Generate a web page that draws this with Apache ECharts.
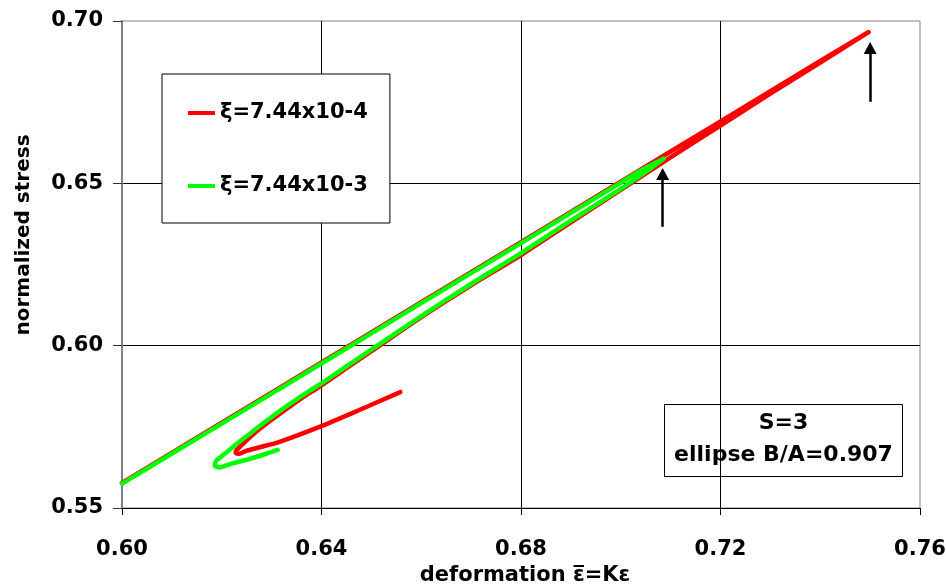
<!DOCTYPE html>
<html>
<head>
<meta charset="utf-8">
<script src="https://cdn.jsdelivr.net/npm/echarts@6/dist/echarts.min.js"></script>
<style>
  html, body { margin: 0; padding: 0; background: #fff; }
  #chart { width: 946px; height: 585px; }
</style>
</head>
<body>
<div id="chart"></div>
<script>
// Stress–deformation loops for two damping values
const seriesNames = ['ξ=7.44x10-4', 'ξ=7.44x10-3'];

// ξ = 7.44x10-4 : tail → turning point → loading branch → tip → unloading branch
const redX = [0.6558, 0.6476, 0.6396, 0.6316, 0.6276, 0.6249, 0.6235, 0.6228, 0.6230, 0.6238,
              0.6251, 0.6276, 0.6316, 0.6356, 0.6400, 0.6500, 0.6600, 0.6700, 0.6800, 0.6900,
              0.7000, 0.7100, 0.7200, 0.7300, 0.7400, 0.7497, 0.7400, 0.7200, 0.7000, 0.6800,
              0.6600, 0.6400, 0.6200, 0.6000];
const redY = [0.5857, 0.5802, 0.5750, 0.5704, 0.5687, 0.5676, 0.5667, 0.5670, 0.5679, 0.5691,
              0.5710, 0.5744, 0.5790, 0.5834, 0.5878, 0.5983, 0.6088, 0.6186, 0.6279, 0.6380,
              0.6480, 0.6580, 0.6678, 0.6776, 0.6872, 0.6966, 0.6877, 0.6691, 0.6505, 0.6319,
              0.6134, 0.5948, 0.5763, 0.5577];

// ξ = 7.44x10-3
const greenX = [0.6312, 0.6283, 0.6249, 0.6216, 0.6196, 0.6186, 0.6189, 0.6203, 0.6223, 0.6249,
                0.6283, 0.6333, 0.6373, 0.6400, 0.6500, 0.6600, 0.6700, 0.6800, 0.6900, 0.7000,
                0.7050, 0.7086, 0.7050, 0.7000, 0.6800, 0.6600, 0.6400, 0.6200, 0.6000];
const greenY = [0.5679, 0.5664, 0.5648, 0.5635, 0.5625, 0.5630, 0.5646, 0.5663, 0.5689, 0.5720,
                0.5761, 0.5817, 0.5858, 0.5884, 0.5988, 0.6091, 0.6190, 0.6285, 0.6385, 0.6483,
                0.6535, 0.6576, 0.6548, 0.6502, 0.6316, 0.6131, 0.5945, 0.5760, 0.5575];

// Arrows marking the loop tips (x, tail y, head y)
const arrowX = [0.7084, 0.7500];
const arrowFromY = [0.6366, 0.6751];
const arrowToY = [0.6529, 0.6917];

// Axis ranges and ticks
const xTicks = [0.60, 0.64, 0.68, 0.72, 0.76];
const yTicks = [0.55, 0.60, 0.65, 0.70];

const FONT = 'DejaVu Sans';

const zip = (xs, ys) => xs.map((x, i) => [x, ys[i]]);

const chart = echarts.init(document.getElementById('chart'), null, { renderer: 'canvas' });

chart.setOption({
  animation: false,
  backgroundColor: '#ffffff',
  grid: {
    left: 122, right: 26, top: 21, bottom: 77,
    show: true, borderColor: '#808080', borderWidth: 1,
    outerBoundsMode: 'none'
  },
  legend: {
    left: 162, top: 74,
    orient: 'vertical',
    data: seriesNames,
    icon: 'rect',
    itemWidth: 27, itemHeight: 4,
    itemGap: 49,
    padding: [27, 22, 25, 26],
    borderColor: '#000', borderWidth: 1,
    backgroundColor: '#fff',
    textStyle: { fontFamily: FONT, fontWeight: 'bold', fontSize: 21, color: '#000', lineHeight: 24 },
    selectedMode: false
  },
  xAxis: {
    type: 'value',
    min: xTicks[0], max: xTicks[xTicks.length - 1], interval: 0.04,
    name: 'deformation \u03B5\u0305=K\u03B5',
    nameLocation: 'middle', nameGap: 52,
    nameTextStyle: { fontFamily: FONT, fontWeight: 'bold', fontSize: 21, color: '#000', padding: [0, 0, 0, 8] },
    axisLine: { show: true, onZero: false, lineStyle: { color: '#000', width: 1 } },
    axisTick: { show: true, inside: false, length: 7, lineStyle: { color: '#000' } },
    axisLabel: {
      margin: 31, fontFamily: FONT, fontWeight: 'bold', fontSize: 21, color: '#000',
      formatter: v => v.toFixed(2)
    },
    splitLine: { show: true, showMinLine: false, showMaxLine: false, lineStyle: { color: '#000', width: 1 } }
  },
  yAxis: {
    type: 'value',
    min: yTicks[0], max: yTicks[yTicks.length - 1], interval: 0.05,
    name: 'normalized stress',
    nameLocation: 'middle', nameGap: 88, nameRotate: 90,
    nameTextStyle: { fontFamily: FONT, fontWeight: 'bold', fontSize: 20, color: '#000', padding: [0, 0, 0, 59] },
    axisLine: { show: true, onZero: false, lineStyle: { color: '#808080', width: 2 } },
    axisTick: { show: true, inside: false, length: 9, lineStyle: { color: '#333' } },
    axisLabel: {
      margin: 19, fontFamily: FONT, fontWeight: 'bold', fontSize: 21, color: '#000',
      formatter: v => v.toFixed(2)
    },
    splitLine: { show: true, showMinLine: false, showMaxLine: false, lineStyle: { color: '#000', width: 1 } }
  },
  series: [
    {
      name: seriesNames[0],
      type: 'line',
      data: zip(redX, redY),
      showSymbol: false,
      smooth: 0.25,
      color: '#ff0000',
      lineStyle: { color: '#ff0000', width: 4.5, cap: 'round', join: 'round' },
      z: 2
    },
    {
      name: seriesNames[1],
      type: 'line',
      data: zip(greenX, greenY),
      showSymbol: false,
      smooth: 0.25,
      color: '#00ff00',
      lineStyle: { color: '#00ff00', width: 4.5, cap: 'round', join: 'round' },
      z: 3
    },
    {
      name: 'arrows',
      type: 'line',
      data: [],
      z: 4,
      markLine: {
        silent: true,
        symbol: ['none', 'triangle'],
        symbolSize: [13, 12],
        label: { show: false },
        lineStyle: { color: '#000', width: 2.5, type: 'solid' },
        emphasis: { disabled: true },
        data: arrowX.map((x, i) => [
          { coord: [x, arrowFromY[i]] },
          { coord: [x, arrowToY[i]] }
        ])
      }
    }
  ],
  graphic: [
    {
      type: 'group',
      left: 664, top: 404,
      children: [
        {
          type: 'rect',
          shape: { x: 0, y: 0, width: 238, height: 72 },
          style: { fill: '#fff', stroke: '#000', lineWidth: 1 }
        },
        {
          type: 'text',
          x: 119, y: 19,
          style: {
            text: 'S=3', fontFamily: FONT, fontWeight: 'bold', fontSize: 22,
            fill: '#000', align: 'center', verticalAlign: 'middle'
          }
        },
        {
          type: 'text',
          x: 119, y: 51,
          style: {
            text: 'ellipse B/A=0.907', fontFamily: FONT, fontWeight: 'bold', fontSize: 22,
            fill: '#000', align: 'center', verticalAlign: 'middle'
          }
        }
      ]
    }
  ]
});
</script>
</body>
</html>
